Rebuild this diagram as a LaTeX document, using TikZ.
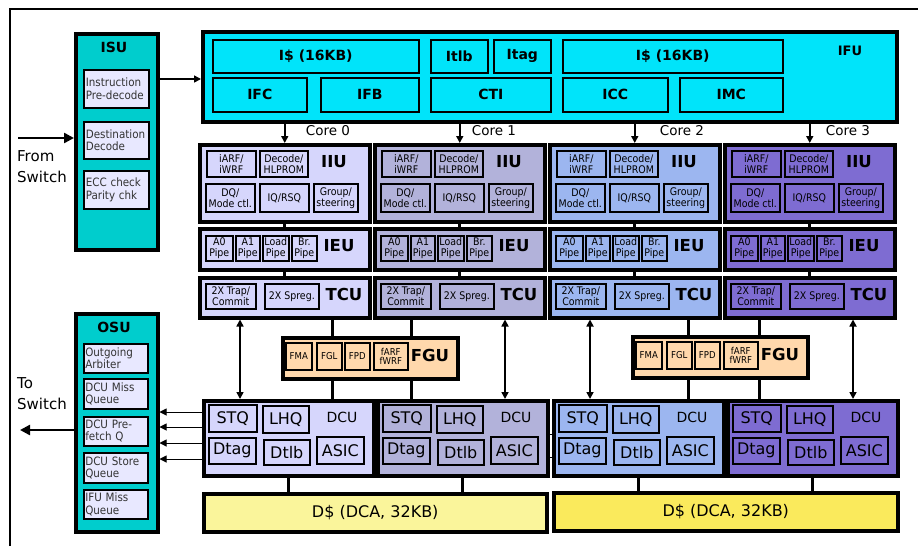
\documentclass[tikz,border=0pt]{standalone}
\usepackage{fontspec}
\setmainfont{DejaVu Sans}
\newfontfamily\cond{DejaVu Sans Condensed}
\usetikzlibrary{arrows.meta,calc}
\definecolor{isucol}{RGB}{0,205,205}
\definecolor{ifucol}{RGB}{0,228,250}
\definecolor{qbox}{RGB}{232,232,255}
\definecolor{cza}{RGB}{214,214,252}
\definecolor{czb}{RGB}{178,178,218}
\definecolor{czc}{RGB}{156,182,240}
\definecolor{czd}{RGB}{126,108,210}
\definecolor{fgucol}{RGB}{255,216,172}
\definecolor{dsa}{RGB}{250,245,155}
\definecolor{dsb}{RGB}{250,234,92}
\tikzset{
  outerbox/.style={draw, line width=3.5pt, inner sep=0pt},
  innerbox/.style={draw, line width=1.6pt, inner sep=0pt},
  sm/.style={font=\cond\fontsize{10.5}{10.8}\selectfont, align=center},
  tiny/.style={font=\cond\fontsize{9.5}{9.8}\selectfont, align=center},
  qtxt/.style={font=\cond\fontsize{11.5}{12.3}\selectfont, align=left, text width=61pt, text=black!80},
  big/.style={font=\fontsize{16}{18}\selectfont},
  ifut/.style={font=\bfseries\fontsize{14}{16}\selectfont},
  ttl/.style={font=\bfseries\fontsize{16.5}{18}\selectfont},
  ttlm/.style={font=\fontsize{14}{16}\selectfont},
  lbl/.style={font=\fontsize{13.5}{15}\selectfont},
  side/.style={font=\fontsize{15}{21}\selectfont, align=left, inner sep=0pt},
  conn/.style={line width=3pt},
  arr/.style={line width=1.6pt, -{Triangle[length=7pt,width=7pt]}},
  darr/.style={line width=1.6pt, {Triangle[length=7pt,width=7pt]}-{Triangle[length=7pt,width=7pt]}},
  bigarr/.style={line width=2.4pt, -{Triangle[length=10pt,width=10pt]}},
  thin/.style={line width=1pt},
}
\newcommand\bx[7]{\node[#6, anchor=north west, minimum width={(#4-#2)*1pt}, minimum height={(#5-#3)*1pt}] (#1) at (#2,#3) {#7};}
\newcommand\corecol[4]{%
\begin{scope}[shift={(#2,0)}]
 \bx{iiu#1}{0}{143}{170}{220}{outerbox,fill=#4}{}
 \bx{arf#1}{8}{150}{57}{176}{innerbox,fill=#4,sm}{iARF/\\iWRF}
 \bx{dec#1}{61}{150}{109}{176}{innerbox,fill=#4,sm}{Decode/\\HLPROM}
 \node[ttl] (iiut#1) at (136,162) {IIU};
 \bx{dq#1}{7}{183}{56}{211}{innerbox,fill=#4,sm}{DQ/\\Mode ctl.}
 \bx{iq#1}{61}{183}{110}{211}{innerbox,fill=#4,sm}{IQ/RSQ}
 \bx{grp#1}{115}{183}{159}{211}{innerbox,fill=#4,sm}{Group/\\steering}
 \bx{ieu#1}{0}{227}{170}{268}{outerbox,fill=#4}{}
 \bx{pa#1}{7}{235}{34}{260}{innerbox,fill=#4,sm}{A0\\Pipe}
 \bx{pb#1}{37}{235}{61}{260}{innerbox,fill=#4,sm}{A1\\Pipe}
 \bx{pc#1}{64}{235}{90}{260}{innerbox,fill=#4,sm}{Load\\Pipe}
 \bx{pd#1}{93}{235}{118}{260}{innerbox,fill=#4,sm}{Br.\\Pipe}
 \node[ttl] (ieut#1) at (141,246) {IEU};
 \bx{tcu#1}{0}{276}{170}{316}{outerbox,fill=#4}{}
 \bx{trap#1}{7}{283}{57}{308}{innerbox,fill=#4,sm}{2X Trap/\\Commit}
 \bx{spr#1}{66}{283}{120}{308}{innerbox,fill=#4,sm}{2X Spreg.}
 \node[ttl] (tcut#1) at (146,294) {TCU};
\end{scope}
\begin{scope}[shift={(#3,0)}]
 \bx{dcu#1}{0}{399}{170}{474}{outerbox,fill=#4}{}
 \bx{stq#1}{6}{404}{54}{431}{innerbox,fill=#4,big}{STQ}
 \bx{lhq#1}{60}{405}{106}{432}{innerbox,fill=#4,big}{LHQ}
 \node[ttlm] (dcut#1) at (140,417) {DCU};
 \bx{dtag#1}{6}{437}{53}{463}{innerbox,fill=#4,big}{Dtag}
 \bx{dtlb#1}{61}{439}{107}{464}{innerbox,fill=#4,big}{Dtlb}
 \bx{asic#1}{114}{436}{161}{463}{innerbox,fill=#4,big}{ASIC}
\end{scope}
\draw[conn] (iiu#1.south) -- (ieu#1.north);
\draw[conn] (ieu#1.south) -- (tcu#1.north);
\draw[arr] (ifu.south -| iiu#1.north) -- (iiu#1.north);
}
\newcommand\fgubox[3]{%
\begin{scope}[shift={(#2,#3)}]
 \bx{fgu#1}{0}{0}{175}{41}{outerbox,fill=fgucol}{}
 \bx{fma#1}{4}{6}{30}{33}{innerbox,fill=fgucol,tiny}{FMA}
 \bx{fgl#1}{35}{6}{60}{33}{innerbox,fill=fgucol,tiny}{FGL}
 \bx{fpd#1}{63}{6}{88}{33}{innerbox,fill=fgucol,tiny}{FPD}
 \bx{farf#1}{92}{6}{126}{33}{innerbox,fill=fgucol,tiny}{fARF\\fWRF}
 \node[ttl] (fgut#1) at (149,19) {FGU};
\end{scope}}
\begin{document}
\begin{tikzpicture}[x=1pt,y=-1pt]
\useasboundingbox (0,0) rectangle (918,546);
\fill[white] (0,0) rectangle (918,546);
% frame
\draw[line width=2pt] (10,546) -- (10,9) -- (918,9);
% ISU
\bx{isu}{74}{32}{156}{248}{outerbox,fill=isucol}{}
\node[ifut] (isut) at (114,47) {ISU};
\bx{ipd}{83}{69}{148}{107}{innerbox,fill=qbox,qtxt}{Instruction\\Pre-decode}
\bx{dst}{83}{121}{148}{158}{innerbox,fill=qbox,qtxt}{Destination\\Decode}
\bx{ecc}{83}{170}{148}{208}{innerbox,fill=qbox,qtxt}{ECC check\\Parity chk}
% OSU
\bx{osu}{74}{312}{156}{530}{outerbox,fill=isucol}{}
\node[ifut] (osut) at (114,327) {OSU};
\bx{oga}{83}{343}{147}{372}{innerbox,fill=qbox,qtxt}{Outgoing\\Arbiter}
\bx{dmq}{83}{378}{147}{408}{innerbox,fill=qbox,qtxt}{DCU Miss\\Queue}
\bx{dpq}{83}{416}{147}{445}{innerbox,fill=qbox,qtxt}{DCU Pre-\\fetch Q}
\bx{dsq}{83}{452}{147}{482}{innerbox,fill=qbox,qtxt}{DCU Store\\Queue}
\bx{imq}{83}{489}{147}{518}{innerbox,fill=qbox,qtxt}{IFU Miss\\Queue}
% IFU
\bx{ifu}{201}{30}{895}{120}{outerbox,fill=ifucol}{}
\bx{ica}{212}{39}{418}{72}{innerbox,fill=ifucol,ifut}{I\$ (16KB)}
\bx{itlb}{430}{39}{487}{72}{innerbox,fill=ifucol,ifut}{Itlb}
\bx{itag}{493}{39}{550}{72}{innerbox,fill=ifucol,ifut}{Itag}
\bx{ifc}{212}{77}{306}{111}{innerbox,fill=ifucol,ifut}{IFC}
\bx{ifb}{320}{77}{418}{111}{innerbox,fill=ifucol,ifut}{IFB}
\bx{cti}{430}{77}{550}{111}{innerbox,fill=ifucol,ifut}{CTI}
\bx{icb}{562}{39}{782}{72}{innerbox,fill=ifucol,ifut}{I\$ (16KB)}
\bx{icc}{562}{77}{667}{111}{innerbox,fill=ifucol,ifut}{ICC}
\bx{imc}{679}{77}{782}{111}{innerbox,fill=ifucol,ifut}{IMC}
\node[font=\bfseries\fontsize{13}{15}\selectfont] (ifut) at (850,51) {IFU};
% cores
\corecol{0}{198}{202}{cza}
\corecol{1}{373}{376}{czb}
\corecol{2}{548}{552}{czc}
\corecol{3}{723}{726}{czd}
\node[lbl] (cl0) at (328,131) {Core 0};
\node[lbl] (cl1) at (494,131) {Core 1};
\node[lbl] (cl2) at (682,131) {Core 2};
\node[lbl] (cl3) at (848,131) {Core 3};
% FGUs
\fgubox{l}{281}{336}
\fgubox{r}{631}{335}
\coordinate (xa) at (332,0);
\coordinate (xb) at (411,0);
\coordinate (xc) at (688,0);
\coordinate (xd) at (759,0);
\draw[conn] (tcu0.south -| xa) -- (fgul.north -| xa);
\draw[conn] (fgul.south -| xa) -- (dcu0.north -| xa);
\draw[conn] (tcu1.south -| xb) -- (fgul.north -| xb);
\draw[conn] (fgul.south -| xb) -- (dcu1.north -| xb);
\draw[conn] (tcu2.south -| xc) -- (fgur.north -| xc);
\draw[conn] (fgur.south -| xc) -- (dcu2.north -| xc);
\draw[conn] (tcu3.south -| xd) -- (fgur.north -| xd);
\draw[conn] (fgur.south -| xd) -- (dcu3.north -| xd);
% TCU <-> DCU
\coordinate (da) at (240,0);
\coordinate (db) at (505,0);
\coordinate (dc) at (590,0);
\coordinate (dd) at (853,0);
\draw[darr] (tcu0.south -| da) -- (dcu0.north -| da);
\draw[darr] (tcu1.south -| db) -- (dcu1.north -| db);
\draw[darr] (tcu2.south -| dc) -- (dcu2.north -| dc);
\draw[darr] (tcu3.south -| dd) -- (dcu3.north -| dd);
% D$
\bx{dsl}{202}{492}{545}{530}{outerbox,fill=dsa,big}{D\$ (DCA, 32KB)}
\bx{dsr}{552}{491}{896}{529}{outerbox,fill=dsb,big}{D\$ (DCA, 32KB)}
\draw[conn] (dcu0.south) -- (dcu0.south |- dsl.north);
\draw[conn] (dcu1.south) -- (dcu1.south |- dsl.north);
\draw[conn] (dcu2.south) -- (dcu2.south |- dsr.north);
\draw[conn] (dcu3.south) -- (dcu3.south |- dsr.north);
% ISU -> IFU
\coordinate (ya) at (0,79);
\draw[arr] (isu.east |- ya) -- (ifu.west |- ya);
% From switch
\coordinate (fs) at (18,138);
\draw[bigarr] (fs) -- (isu.west |- fs);
\node[side, anchor=north west] (fst) at (17,150) {From\\Switch};
% To switch
\coordinate (ts) at (20,430);
\draw[bigarr] (osu.west |- ts) -- (ts);
\node[side, anchor=north west] (tst) at (17,377) {To\\Switch};
% DCU -> OSU
\foreach \yy/\nm in {412/qa,427/qb,443/qc,459/qd}{
  \coordinate (\nm) at (0,\yy);
  \draw[thin,-{Triangle[length=7pt,width=7pt]}] (dcu0.west |- \nm) -- (osu.east |- \nm);
}
% links between DCUs
\coordinate (qe) at (0,428);
\coordinate (qf) at (0,457);
\coordinate (qg) at (0,434);
\draw[thin] (dcu0.east |- qe) -- (dcu1.west |- qe);
\draw[thin] (dcu0.east |- qf) -- (dcu1.west |- qf);
\draw[thin] (dcu1.east |- qg) -- (dcu2.west |- qg);
\draw[thin] (dcu1.east |- qf) -- (dcu2.west |- qf);
\draw[thin] (dcu2.east |- qf) -- (dcu3.west |- qf);
\end{tikzpicture}
\end{document}
